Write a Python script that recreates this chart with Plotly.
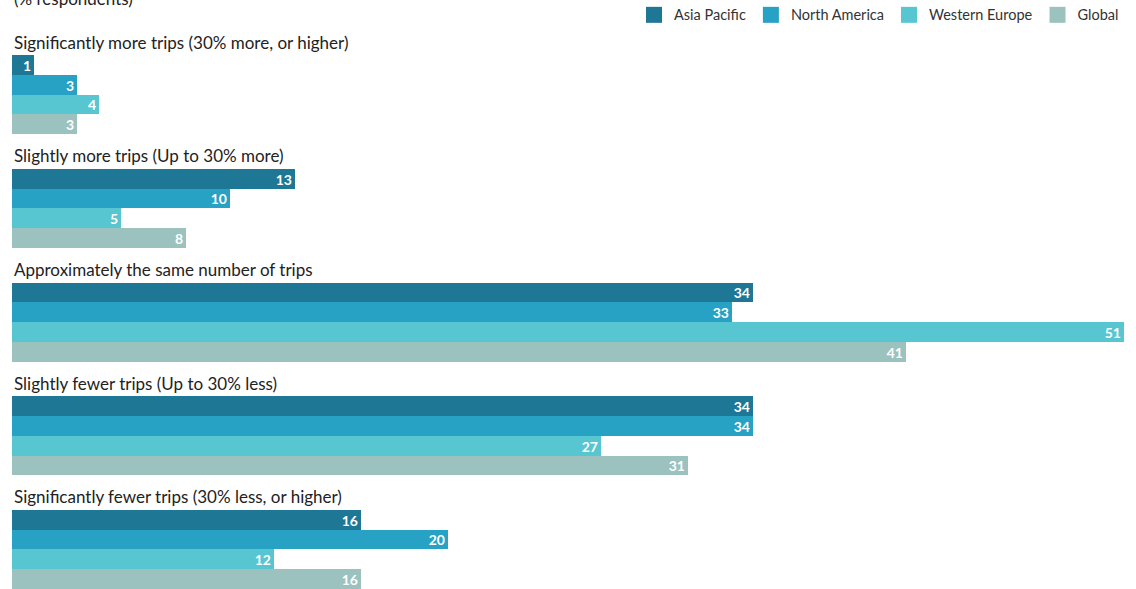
import plotly.graph_objects as go

categories = [
    "Significantly more trips (30% more, or higher)",
    "Slightly more trips (Up to 30% more)",
    "Approximately the same number of trips",
    "Slightly fewer trips (Up to 30% less)",
    "Significantly fewer trips (30% less, or higher)",
]
series_names = ["Asia Pacific", "North America", "Western Europe", "Global"]
asia_pacific = [1, 13, 34, 34, 16]
north_america = [3, 10, 33, 34, 20]
western_europe = [4, 5, 51, 27, 12]
global_vals = [3, 8, 41, 31, 16]
colors = ["#1e7895", "#27a1c4", "#57c6d1", "#9cc2bf"]

series_values = [asia_pacific, north_america, western_europe, global_vals]

G = 5.75  # group spacing in bar units
FONT = "Lato"

fig = go.Figure()
for i, (name, vals, col) in enumerate(zip(series_names, series_values, colors)):
    fig.add_trace(go.Bar(
        name=name,
        x=vals,
        y=[g * G + i for g in range(len(categories))],
        orientation="h",
        width=1.0,
        marker=dict(color=col, line=dict(width=0)),
        text=[str(v) for v in vals],
        textposition="inside",
        insidetextanchor="end",
        textangle=0,
        textfont=dict(color="white", size=14, family=FONT, weight="bold"),
        hoverinfo="x+name",
        showlegend=False,
    ))
# legend entries with larger square swatches
for name, col in zip(series_names, colors):
    fig.add_trace(go.Scatter(
        name=name, x=[None], y=[None], mode="markers",
        marker=dict(symbol="square", size=16, color=col),
        showlegend=True, hoverinfo="skip",
    ))

annotations = []
for g, cat in enumerate(categories):
    annotations.append(dict(
        x=0, y=g * G - 1.16, xref="x", yref="y",
        text=cat, showarrow=False, xanchor="left", yanchor="middle",
        font=dict(size=17, color="#222222", family=FONT),
    ))
annotations.append(dict(
    x=0, y=1, xref="x", yref="paper", yshift=32,
    text="(% respondents)", showarrow=False, xanchor="left", yanchor="middle",
    font=dict(size=17, color="#222222", family=FONT),
))

fig.update_layout(
    width=1136, height=589,
    margin=dict(l=12, r=12, t=30, b=0, autoexpand=False),
    paper_bgcolor="white", plot_bgcolor="white",
    barmode="overlay",
    bargap=0,
    showlegend=True,
    legend=dict(
        orientation="h", x=1.0, xanchor="right", y=1.027, yanchor="middle",
        font=dict(size=14.5, color="#333333", family=FONT),
        traceorder="normal", itemclick=False, itemsizing="trace",
    ),
    xaxis=dict(range=[0, 51], visible=False, fixedrange=True),
    yaxis=dict(range=[4 * G + 3.5, -1.77], visible=False, fixedrange=True),
    annotations=annotations,
    uniformtext=dict(minsize=14, mode="show"),
)

fig.write_html("out.html", config={"displayModeBar": False},
               post_script="document.body.style.margin='0';")
